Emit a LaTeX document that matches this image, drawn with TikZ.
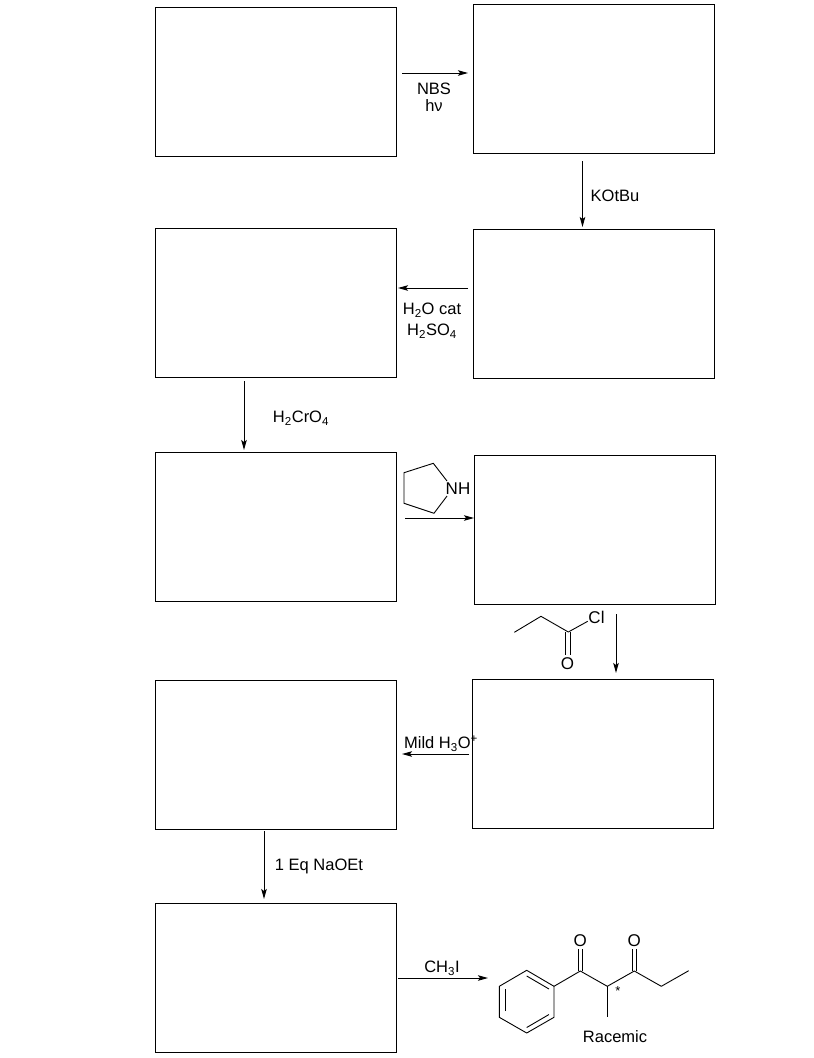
\documentclass[tikz,border=0pt]{standalone}
\usepackage{fontspec}
\setmainfont{Liberation Sans}
\usetikzlibrary{arrows.meta}
\tikzset{
  answerbox/.style={draw=black,line width=1pt,fill=white,inner sep=0pt,outer sep=0pt,minimum width=#1,minimum height=149pt},
  rxn/.style={draw=black,line width=1pt,-{Stealth[length=10pt,width=5.5pt,inset=2pt]}},
  bond/.style={draw=black,line width=0.9pt},
  lab/.style={font=\fontsize{16.5pt}{18pt}\selectfont,inner sep=0pt,text=black},
  atom/.style={font=\fontsize{17pt}{19pt}\selectfont,inner sep=0pt,text=black},
}
\begin{document}
\begin{tikzpicture}[x=1pt,y=-1pt]
\useasboundingbox (0,0) rectangle (814,1058);
% boxes
\node[answerbox=241pt] (b1) at (276,82.3) {};
\node[answerbox=241pt] (b2) at (594,79.3) {};
\node[answerbox=241pt] (b3) at (276,303.3) {};
\node[answerbox=241pt] (b4) at (594,304.3) {};
\node[answerbox=241pt] (b5) at (276,527.3) {};
\node[answerbox=241pt] (b6) at (595,530.3) {};
\node[answerbox=241pt] (b7) at (276,755) {};
\node[answerbox=241pt] (b8) at (593,754) {};
\node[answerbox=241pt] (b9) at (276,977.5) {};
% arrow ends
\coordinate (a1s) at (402,73); \coordinate (a1e) at (468,73);
\coordinate (a2s) at (582.5,161); \coordinate (a2e) at (582.5,227);
\coordinate (a3s) at (468,288); \coordinate (a3e) at (398,288);
\coordinate (a4s) at (244,381); \coordinate (a4e) at (244,450);
\coordinate (a5s) at (405,518); \coordinate (a5e) at (474,518);
\coordinate (a6s) at (616,614); \coordinate (a6e) at (616,673);
\coordinate (a7s) at (469,754); \coordinate (a7e) at (402,754);
\coordinate (a8s) at (264,831); \coordinate (a8e) at (264,899);
\coordinate (a9s) at (398,978); \coordinate (a9e) at (488,978);
\foreach \i in {1,...,9} \draw[rxn] (a\i s) -- (a\i e);
% labels
\node[lab] (l1) at (434,89) {NBS};
\node[lab] (l2) at (434,106) {hν};
\node[lab] (l3) at (615,196) {KOtBu};
\node[lab] (l4) at (432,310) {H\textsubscript{2}O cat};
\node[lab] (l5) at (432,331) {H\textsubscript{2}SO\textsubscript{4}};
\node[lab] (l6) at (301,418) {H\textsubscript{2}CrO\textsubscript{4}};
\node[lab] (l7) at (441,743.5) {Mild H\textsubscript{3}O\textsuperscript{+}};
\node[lab] (l8) at (319,866.5) {1 Eq NaOEt};
\node[lab] (l9) at (442,968) {CH\textsubscript{3}I};
\node[lab] (l10) at (615,1036.5) {Racemic};
% pyrrolidine
\node[atom] (nh) at (458,489) {NH};
\coordinate (p1) at (433.3,463.3); \coordinate (p2) at (404,472.7);
\coordinate (p3) at (404,503.3); \coordinate (p4) at (434,513.3);
\coordinate (pn1) at (447,481) ; \coordinate (pn2) at (447,496);
\draw[bond,line join=round] (pn1) -- (p1) -- (p2) -- (p3) -- (p4) -- (pn2);
% propionyl chloride
\node[atom] (cl) at (596.5,617) {Cl};
\node[atom] (o1) at (567.5,664) {O};
\coordinate (c1) at (514.3,632.3); \coordinate (c2) at (541,616.3);
\coordinate (c3) at (568.3,632); \coordinate (clb) at (587.7,621.3);
\draw[bond,line join=round] (c1) -- (c2) -- (c3) -- (clb);
\draw[bond] (565.8,632) -- (565.8,655);
\draw[bond] (570.4,632) -- (570.4,655);
% product
\coordinate (r1) at (526.7,970.3); \coordinate (r2) at (554,986.3);
\coordinate (r3) at (554,1017.3); \coordinate (r4) at (526.7,1033);
\coordinate (r5) at (499.3,1017.3); \coordinate (r6) at (499.3,986.3);
\draw[bond,line join=round] (r1) -- (r2) -- (r3) -- (r4) -- (r5) -- (r6) -- cycle;
\draw[bond] (526.7,976) -- (549,989);
\draw[bond] (549,1014.5) -- (526.7,1027.5);
\draw[bond] (505,1011) -- (505,989);
\coordinate (k1) at (580.3,971); \coordinate (m) at (607.3,986.3);
\coordinate (k2) at (634.3,971); \coordinate (e1) at (661.3,986.3);
\coordinate (e2) at (688.7,970.7); \coordinate (me) at (607.3,1017.3);
\draw[bond,line join=round] (r2) -- (k1) -- (m) -- (k2) -- (e1) -- (e2);
\draw[bond] (m) -- (me);
\node[atom] (o2) at (580.3,940.5) {O};
\node[atom] (o3) at (634.3,940.5) {O};
\draw[bond] (578,971) -- (578,949);
\draw[bond] (582.6,971) -- (582.6,949);
\draw[bond] (632,971) -- (632,949);
\draw[bond] (636.6,971) -- (636.6,949);
\node[font=\fontsize{13pt}{14pt}\selectfont,inner sep=0pt] (star) at (618,991) {*};
\end{tikzpicture}
\end{document}
